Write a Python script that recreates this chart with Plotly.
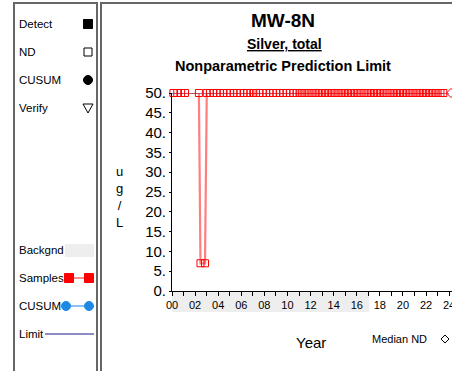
import plotly.graph_objects as go

W, H = 452, 371

# sample dates and results (ug/L)
sample_dates = [
    "2000-02-15", "2000-06-15", "2000-10-15", "2001-02-15",
    "2002-05-01", "2002-06-20", "2002-11-10", "2003-01-05",
    "2003-04-15", "2003-08-01", "2003-11-15", "2004-03-01", "2004-06-15", "2004-10-01",
    "2005-01-15", "2005-05-01", "2005-08-15", "2005-12-01", "2006-03-15", "2006-07-01",
    "2006-10-15", "2007-01-15", "2007-04-15", "2007-08-01", "2007-11-15", "2008-03-01",
    "2008-06-15", "2008-10-01", "2009-01-15", "2009-05-01", "2009-08-15", "2009-12-01",
    "2010-03-15", "2010-07-01", "2010-10-15", "2011-01-15", "2011-04-01", "2011-07-01",
    "2011-10-01", "2012-01-01", "2012-04-01", "2012-07-01", "2012-10-01", "2013-01-01",
    "2013-04-01", "2013-07-01", "2013-10-01", "2014-01-01", "2014-04-01", "2014-07-01",
    "2014-10-01", "2015-01-01", "2015-04-01", "2015-07-01", "2015-10-01", "2016-01-01",
    "2016-04-01", "2016-07-01", "2016-10-01", "2017-01-01", "2017-04-01", "2017-07-01",
    "2017-10-01", "2018-01-01", "2018-04-01", "2018-07-01", "2018-10-01", "2019-01-01",
    "2019-04-01", "2019-07-01", "2019-10-01", "2020-01-01", "2020-04-01", "2020-07-01",
    "2020-10-01", "2021-01-01", "2021-04-01", "2021-07-01", "2021-10-01", "2022-01-01",
    "2022-04-01", "2022-07-01", "2022-10-01", "2023-01-01", "2023-04-01", "2023-07-01",
]
sample_values = [50, 50, 50, 50, 50, 7, 7] + [50] * (len(sample_dates) - 7)

limit_dates = ["2000-01-01", "2024-01-01"]
limit_values = [50, 50]

median_nd_date = ["2024-03-01"]
median_nd_value = [50]

background_end = "2017-02-01"

y_ticks = [0, 5, 10, 15, 20, 25, 30, 35, 40, 45, 50]
y_labels = [f"{v}." for v in y_ticks]
x_ticks = [f"{y}-01-01" for y in range(2000, 2025)]
x_labels = [f"{y % 100:02d}" if y % 2 == 0 else "" for y in range(2000, 2025)]

FONT = "Arial, Liberation Sans, sans-serif"


def px(x):
    return x / W


def py(y):
    return 1 - y / H


fig = go.Figure()

fig.add_trace(go.Scatter(x=limit_dates, y=limit_values, mode="lines",
                         line=dict(color="#1a1a8c", width=1), showlegend=False))
fig.add_trace(go.Scatter(x=sample_dates, y=sample_values, mode="lines+markers",
                         line=dict(color="rgba(255,0,0,0.5)", width=2.2),
                         marker=dict(symbol="square-open", size=7, color="#ff0000",
                                     line=dict(width=1)),
                         cliponaxis=False, showlegend=False))
fig.add_trace(go.Scatter(x=median_nd_date, y=median_nd_value, mode="markers",
                         marker=dict(symbol="diamond-open", size=7, color="#ff0000"),
                         cliponaxis=False, showlegend=False))

shapes = []
annotations = []

# frames
shapes.append(dict(type="rect", xref="paper", yref="paper", x0=px(14), x1=px(97),
                   y0=py(385), y1=py(3), line=dict(color="#666666", width=2)))
shapes.append(dict(type="rect", xref="paper", yref="paper", x0=px(101), x1=px(470),
                   y0=py(385), y1=py(3), line=dict(color="#666666", width=2)))

# background period band under the x axis
shapes.append(dict(type="rect", xref="x", yref="paper", x0="2000-01-01", x1=background_end,
                   y0=py(312), y1=py(292), fillcolor="#eeeeee", line=dict(width=0),
                   layer="below"))


def label(text, x, y, size=11, xanchor="center"):
    annotations.append(dict(text=text, xref="paper", yref="paper", x=px(x), y=py(y),
                            xanchor=xanchor, yanchor="middle", showarrow=False,
                            font=dict(family=FONT, size=size, color="black")))


# left legend panel
legend_rows = [("Detect", 24), ("ND", 52), ("CUSUM", 80), ("Verify", 108),
               ("Backgnd", 250), ("Samples", 278), ("CUSUM", 306), ("Limit", 334)]
for name, yy in legend_rows:
    label(name, 17, yy, size=11.5, xanchor="left")


def box(cx, cy, s, fill, line_color, kind="rect", width=1):
    shapes.append(dict(type=kind, xref="paper", yref="paper",
                       x0=px(cx - s / 2), x1=px(cx + s / 2), y0=py(cy + s / 2), y1=py(cy - s / 2),
                       fillcolor=fill, line=dict(color=line_color, width=width)))


def seg(x0, x1, yy, color, width):
    shapes.append(dict(type="line", xref="paper", yref="paper", x0=px(x0), x1=px(x1),
                       y0=py(yy), y1=py(yy), line=dict(color=color, width=width)))


box(88, 24, 9, "black", "black")
box(88, 52, 8, "white", "black")
box(88, 80, 9, "black", "black", kind="circle")
shapes.append(dict(type="path", xref="paper", yref="paper",
                   path=f"M {px(83)},{py(104)} L {px(93)},{py(104)} L {px(88)},{py(113)} Z",
                   line=dict(color="black", width=1)))
shapes.append(dict(type="rect", xref="paper", yref="paper", x0=px(65), x1=px(94),
                   y0=py(257), y1=py(244), fillcolor="#eeeeee", line=dict(width=0)))
seg(69, 90, 278, "#ff6666", 1.5)
box(69, 278, 9, "#ff0000", "#ff0000")
box(89, 278, 9, "#ff0000", "#ff0000")
seg(66, 89, 306, "#66aaee", 1.5)
box(66, 306, 9, "#1e88e5", "#1e88e5", kind="circle")
box(89, 306, 9, "#1e88e5", "#1e88e5", kind="circle")
seg(45, 94, 334, "#1a1a8c", 1)

# titles
label("<b>MW-8N</b>", 283, 20, size=19)
label("<b><u>Silver, total</u></b>", 284, 44, size=14)
label("<b>Nonparametric Prediction Limit</b>", 283, 66, size=14.5)
label("u<br>g<br>/<br>L", 119, 197, size=13)
label("Year", 311, 342, size=15)
label("Median ND", 399, 339, size=11)
shapes.append(dict(type="path", xref="paper", yref="paper",
                   path=f"M {px(445)},{py(335)} L {px(449)},{py(339)} L {px(445)},{py(343)} "
                        f"L {px(441)},{py(339)} Z",
                   line=dict(color="black", width=1)))

fig.update_layout(
    width=W, height=H,
    margin=dict(l=0, r=0, t=0, b=0, pad=0, autoexpand=False),
    paper_bgcolor="white", plot_bgcolor="white",
    font=dict(family=FONT, color="black"),
    shapes=shapes, annotations=annotations,
    xaxis=dict(domain=[px(172), 1.0], type="date", automargin=False,
               range=["2000-01-01", "2024-04-01"],
               tickvals=x_ticks, ticktext=x_labels, ticklabeloverflow="allow",
               ticks="outside", ticklen=4, tickcolor="black",
               showline=True, linecolor="black", linewidth=1,
               showgrid=False, zeroline=False, tickfont=dict(size=11)),
    yaxis=dict(domain=[py(291), py(93)], range=[0, 50], automargin=False,
               tickvals=y_ticks, ticktext=y_labels,
               ticks="outside", ticklen=2, tickcolor="black",
               showline=True, linecolor="black", linewidth=1,
               showgrid=False, zeroline=False, tickfont=dict(size=15)),
)

fig.write_html("out.html", post_script="document.body.style.margin='0';",
               config={"displayModeBar": False})
